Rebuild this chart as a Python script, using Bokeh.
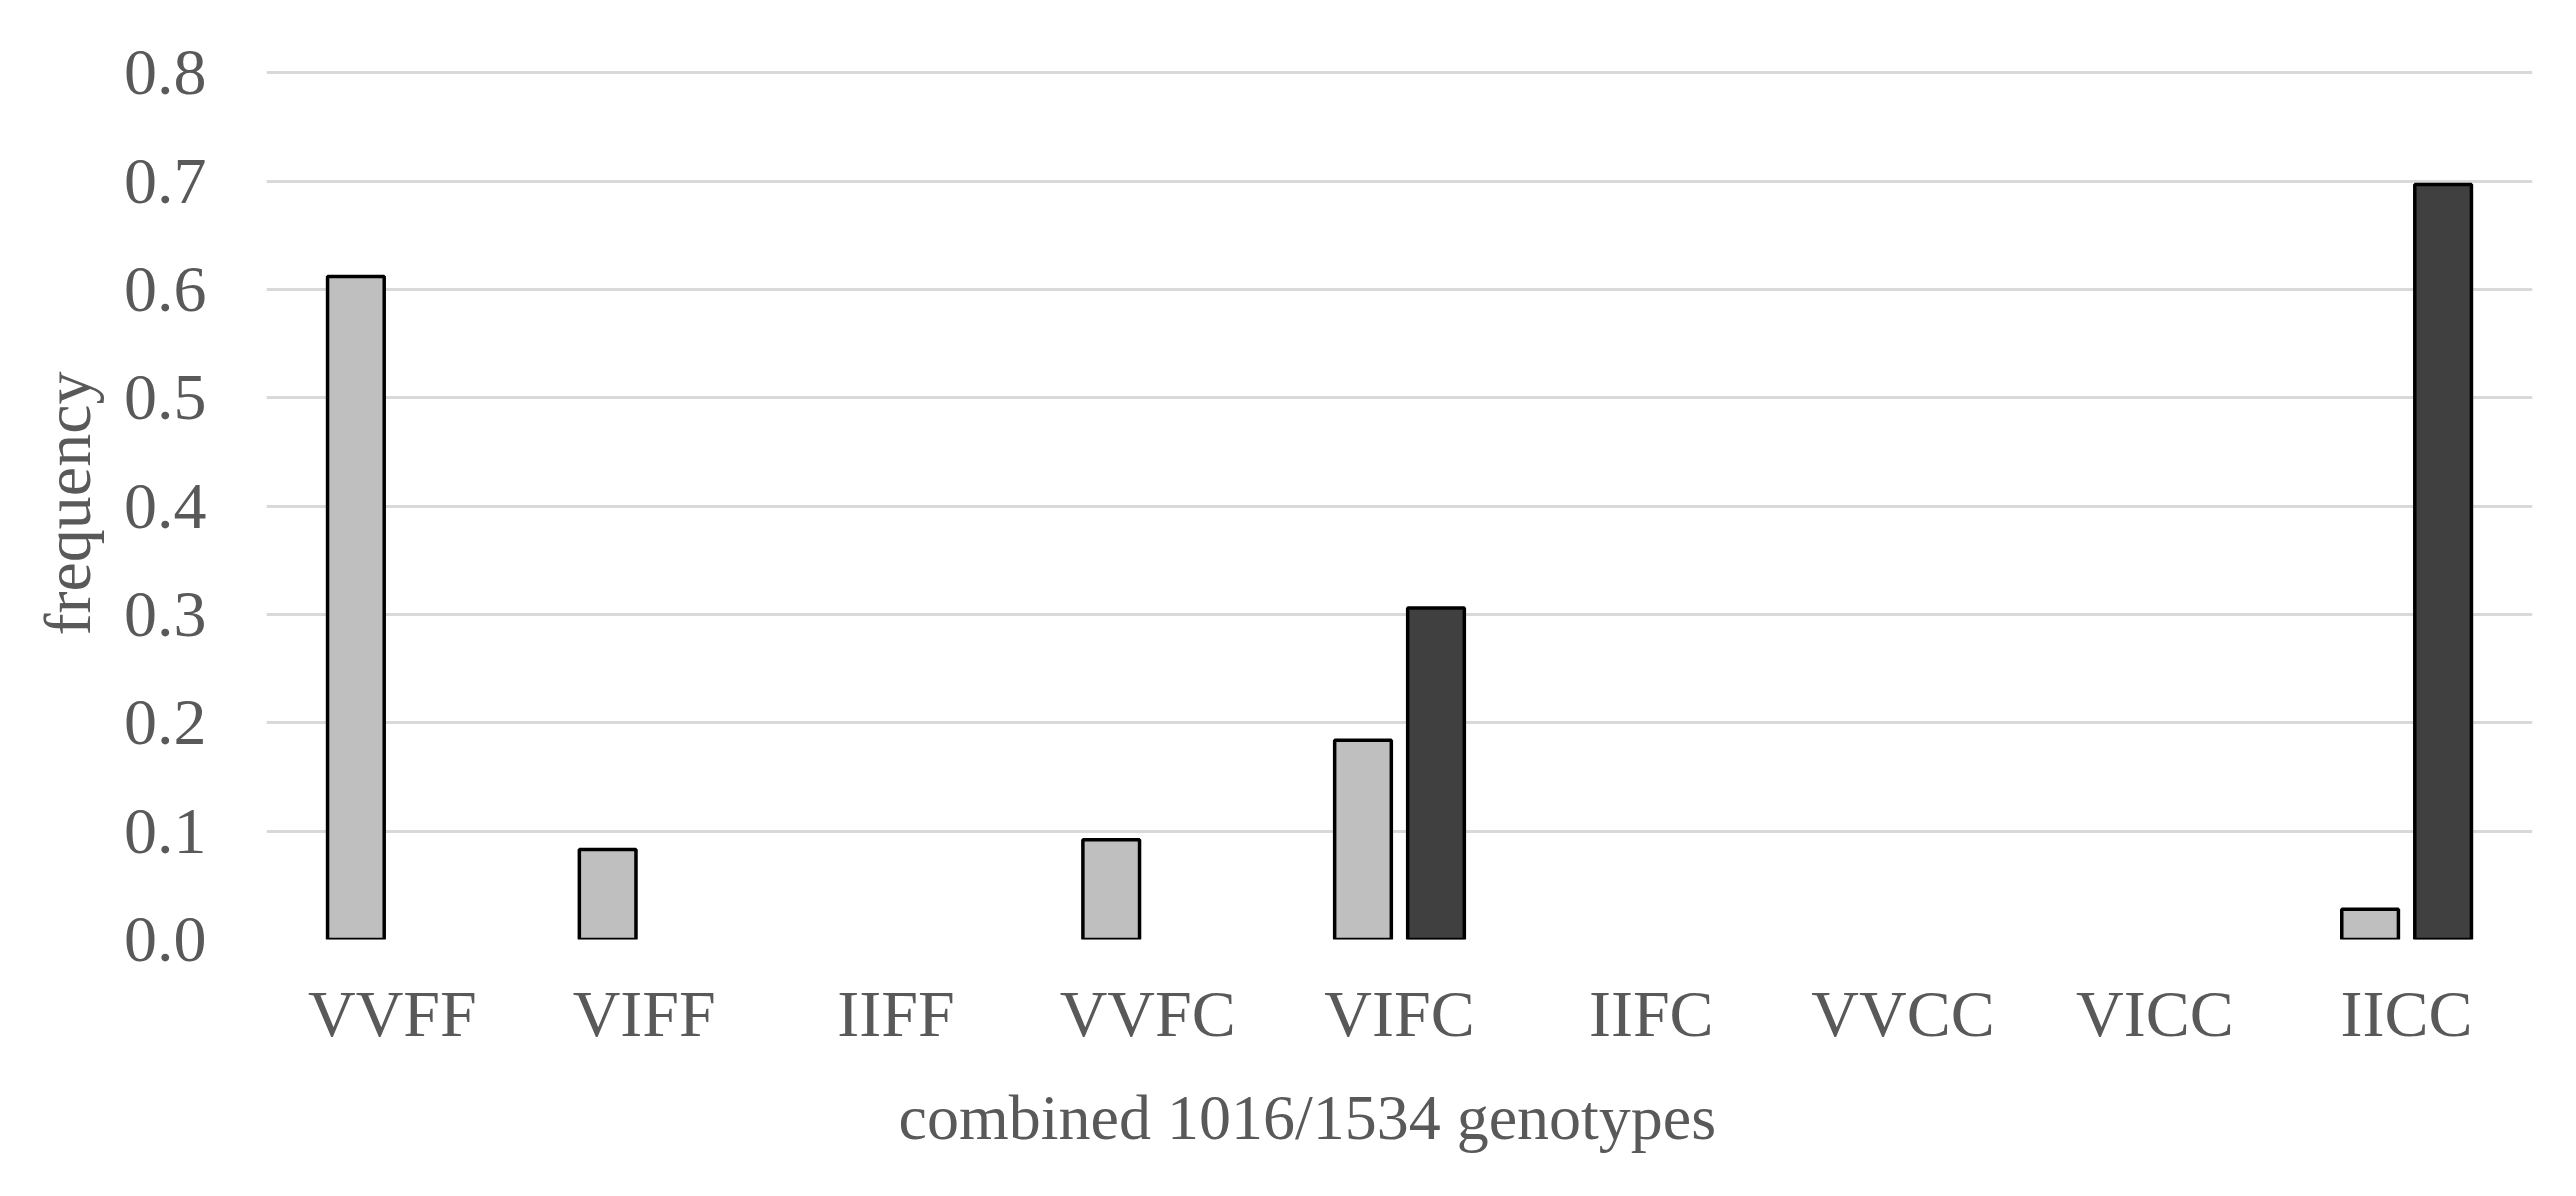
from bokeh.plotting import figure
from bokeh.models import (ColumnDataSource, FactorRange, Range1d, FixedTicker,
                          PrintfTickFormatter, Title, CDSView, BooleanFilter)
from bokeh.transform import dodge
from bokeh.embed import file_html
from bokeh.resources import INLINE

# ---- data ----
genotypes = ["VVFF", "VIFF", "IIFF", "VVFC", "VIFC", "IIFC", "VVCC", "VICC", "IICC"]
series_light = [0.612, 0.083, 0.0, 0.092, 0.184, 0.0, 0.0, 0.0, 0.028]
series_dark = [0.0, 0.0, 0.0, 0.0, 0.306, 0.0, 0.0, 0.0, 0.697]
y_ticks = [0.0, 0.1, 0.2, 0.3, 0.4, 0.5, 0.6, 0.7, 0.8]
x_title = "combined 1016/1534 genotypes"
y_title = "frequency"

FONT = "Liberation Serif"
TEXT_COLOR = "#595959"
FS = "66px"

src = ColumnDataSource(dict(genotype=genotypes, light=series_light, dark=series_dark))

p = figure(x_range=FactorRange(factors=genotypes), y_range=Range1d(0, 0.805),
           width=2560, height=1180, output_backend="svg", toolbar_location=None,
           min_border_left=266, min_border_right=28, min_border_top=67,
           min_border_bottom=241)
p.outline_line_color = None
p.background_fill_color = "white"
p.border_fill_color = "white"

# grid
p.xgrid.grid_line_color = None
p.ygrid.grid_line_color = "#d9d9d9"
p.ygrid.grid_line_width = 3

# y axis
p.yaxis.ticker = FixedTicker(ticks=y_ticks)
p.yaxis.formatter = PrintfTickFormatter(format="%.1f")
p.yaxis.axis_line_color = None
p.yaxis.major_tick_line_color = None
p.yaxis.minor_tick_line_color = None
p.yaxis.major_label_text_font = FONT
p.yaxis.major_label_text_font_size = FS
p.yaxis.major_label_text_color = TEXT_COLOR
p.yaxis.major_label_standoff = 54
p.yaxis.axis_label = y_title
p.yaxis.axis_label_text_font = FONT
p.yaxis.axis_label_text_font_size = FS
p.yaxis.axis_label_text_font_style = "normal"
p.yaxis.axis_label_text_color = TEXT_COLOR
p.yaxis.axis_label_standoff = 17

# x axis
p.xaxis.axis_line_color = None
p.xaxis.major_tick_line_color = None
p.xaxis.minor_tick_line_color = None
p.xaxis.major_label_text_font = FONT
p.xaxis.major_label_text_font_size = FS
p.xaxis.major_label_text_color = TEXT_COLOR
p.xaxis.major_label_standoff = 31

# x title (centred on the whole chart, as in the reference)
p.add_layout(Title(text=x_title, align="left", offset=632, text_font=FONT,
                   text_font_size="64px", text_font_style="normal",
                   text_color=TEXT_COLOR, standoff=54), "below")

light_view = CDSView(filter=BooleanFilter([v > 0 for v in series_light]))
dark_view = CDSView(filter=BooleanFilter([v > 0 for v in series_dark]))

p.vbar(x=dodge("genotype", -0.145, range=p.x_range), top="light", bottom=0,
       width=0.225, source=src, view=light_view,
       fill_color="#bfbfbf", line_color="black", line_width=3.5)
p.vbar(x=dodge("genotype", 0.145, range=p.x_range), top="dark", bottom=0,
       width=0.225, source=src, view=dark_view,
       fill_color="#404040", line_color="black", line_width=3.5)

open("out.html", "w").write(file_html(p, INLINE))
